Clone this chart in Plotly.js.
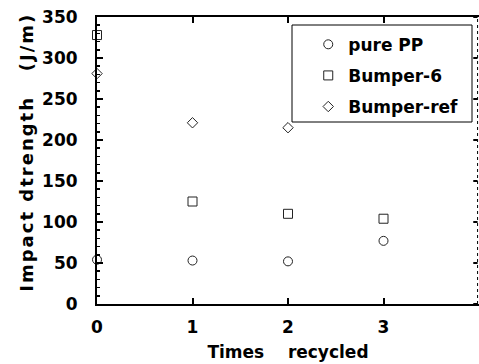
<!DOCTYPE html>
<html><head><meta charset="utf-8">
<script src="https://cdn.plot.ly/plotly-3.0.1.min.js"></script>
<style>body{margin:0;background:#fff}#c{width:479px;height:364px}.ytitle{letter-spacing:2px}</style>
</head><body><div id="c"></div>
<script>
const names = ["pure PP", "Bumper-6", "Bumper-ref"];
const symbols = ["circle-open", "square-open", "diamond-open"];
const xPure = [0, 1, 2, 3];
const yPure = [54, 53, 52, 77];
const xB6 = [0, 1, 2, 3];
const yB6 = [328, 125, 110, 104];
const xRef = [0, 1, 2];
const yRef = [281, 221, 215];
const xTicks = [0, 1, 2, 3, 4];
const yTicks = [0, 50, 100, 150, 200, 250, 300, 350];

const fam = 'DejaVu Sans, Arial, sans-serif';
const xs = [xPure, xB6, xRef], ys = [yPure, yB6, yRef];
const traces = xs.map((x, i) => ({
  x: x, y: ys[i], name: names[i], type: 'scatter', mode: 'markers', cliponaxis: false,
  legendgroup: 'g' + i,
  marker: {symbol: symbols[i], size: i === 2 ? 8 : 9, color: '#222', line: {width: 1, color: '#222'}}
}));
const shapes = [
  {type: 'line', xref: 'x', yref: 'paper', x0: 3.985, x1: 3.985, y0: 0, y1: 1,
    line: {color: '#000', width: 1, dash: 'dot'}},
  {type: 'rect', xref: 'paper', yref: 'paper', x0: (292 - 97) / 382, x1: (472 - 97) / 382,
    y0: (304 - 122) / 287, y1: (304 - 25) / 287, line: {color: '#000', width: 1}, fillcolor: '#fff', layer: 'below'}
];
yTicks.forEach(v => shapes.push({type: 'line', xref: 'x', yref: 'y', x0: 3.985, x1: 3.94, y0: v, y1: v,
  line: {color: '#000', width: 2}}));
Plotly.newPlot('c', traces, {
  width: 479, height: 364,
  margin: {l: 97, r: 0, t: 17, b: 60},
  paper_bgcolor: '#fff', plot_bgcolor: 'rgba(0,0,0,0)',
  font: {family: fam, color: '#000', weight: 'bold'},
  showlegend: true,
  legend: {x: 0.553, y: 0.966, xanchor: 'left', yanchor: 'top', bgcolor: 'rgba(0,0,0,0)',
    borderwidth: 0, font: {size: 17, family: fam, weight: 'bold', color: '#000'},
    itemsizing: 'trace', tracegroupgap: 6},
  xaxis: {range: [0, 4], tickvals: xTicks, ticktext: xTicks.map(String), ticks: 'inside', ticklen: 6,
    tickwidth: 2, tickcolor: '#000', showgrid: false, zeroline: false, showline: true, linewidth: 2,
    linecolor: '#000', mirror: 'ticks', tickfont: {size: 17, family: fam, weight: 'bold'}, ticklabelstandoff: 7,
    title: {text: 'Times&nbsp;&nbsp;&nbsp;&nbsp;recycled', font: {size: 17, family: fam, weight: 'bold'}, standoff: 10}},
  yaxis: {range: [0, 350], tickvals: yTicks, ticks: 'inside', ticklen: 6, tickwidth: 2, tickcolor: '#000',
    showgrid: false, zeroline: false, showline: true, linewidth: 2, linecolor: '#000',
    minor: {dtick: 10, ticks: 'inside', ticklen: 3, tickwidth: 1.5, tickcolor: '#000', showgrid: false},
    tickfont: {size: 17, family: fam, weight: 'bold'}, ticklabelstandoff: 14,
    title: {text: '&nbsp;&nbsp;Impact&nbsp;dtrength&nbsp;&nbsp;&nbsp;(J/m)', font: {size: 18, family: fam, weight: 'bold'}, standoff: 4}},
  shapes: shapes
}, {staticPlot: true});
</script></body></html>
